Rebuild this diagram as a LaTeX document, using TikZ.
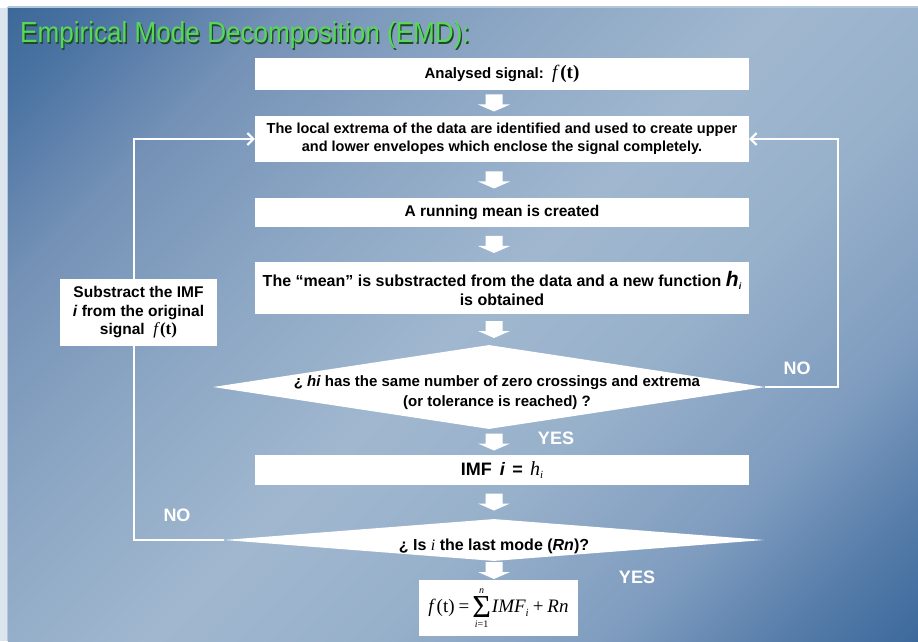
\documentclass[tikz,border=0pt]{standalone}
\usepackage{fontspec}
\setmainfont{Liberation Sans}
\newfontfamily\serif{Liberation Serif}
\usetikzlibrary{arrows.meta,shapes.geometric,calc}
\definecolor{bgA}{HTML}{3C6898}
\definecolor{bgB}{HTML}{4A73A2}
\definecolor{bgC}{HTML}{7491B6}
\definecolor{bgD}{HTML}{8AA5C3}
\definecolor{bgE}{HTML}{A0B7CF}
\definecolor{bgF}{HTML}{98B1CB}
\definecolor{bgG}{HTML}{7F9CBF}
\definecolor{bgH}{HTML}{5A80AC}
\definecolor{bgI}{HTML}{3B689B}
\definecolor{edgecol}{HTML}{DCE4EE}
\definecolor{edgeline}{HTML}{B4C6D9}
\definecolor{titlegreen}{HTML}{58D858}
\definecolor{titleshadow}{HTML}{1E4A28}
\pgfdeclarehorizontalshading{bgshade}{100bp}{color(0bp)=(bgA); color(25bp)=(bgA); color(28bp)=(bgB); color(34bp)=(bgC); color(41bp)=(bgD); color(50bp)=(bgE); color(57bp)=(bgF); color(65bp)=(bgG); color(70bp)=(bgH); color(75bp)=(bgI); color(100bp)=(bgI)}
\newcommand{\smallserif}{\serif\mdseries\fontsize{10}{10}\selectfont}
\newcommand{\bigsum}{$\vcenter{\offinterlineskip\halign{\hfil##\hfil\cr
  \smallserif\itshape n\cr\noalign{\kern3pt}
  \serif\fontsize{32}{32}\selectfont Σ\cr\noalign{\kern4pt}
  \smallserif\itshape i\upshape =1\cr}}$}
\begin{document}
\begin{tikzpicture}[x=1pt,y=1pt,
  box/.style={fill=white, minimum width=494pt, inner sep=2pt, align=center, font=\bfseries\fontsize{14.5}{18}\selectfont},
  dia/.style={diamond, fill=white, inner sep=0pt},
  dtext/.style={align=center, font=\bfseries\fontsize{15}{20}\selectfont, inner sep=0pt},
  blk/.style={fill=white, to path={let \p1=(\tikztostart), \p2=(\tikztotarget) in
    ({\x1-8.5pt},{(\y1+\y2)/2+8.5pt}) -- ({\x1+8.5pt},{(\y1+\y2)/2+8.5pt}) --
    ({\x1+8.5pt},{(\y1+\y2)/2-1.5pt}) -- ({\x1+16pt},{(\y1+\y2)/2-1.5pt}) --
    ({\x1},{(\y1+\y2)/2-8.5pt}) -- ({\x1-16pt},{(\y1+\y2)/2-1.5pt}) --
    ({\x1-8.5pt},{(\y1+\y2)/2-1.5pt}) -- cycle}},
  loopline/.style={white, line width=2pt, -{Straight Barb[length=6pt,width=12pt,line width=2pt]}},
  lbl/.style={text=white, font=\bfseries\fontsize{18}{18}\selectfont, inner sep=0pt},
  titlefont/.style={font=\fontsize{29}{29}\selectfont, inner sep=0pt, anchor=base west}]
\useasboundingbox (0,0) rectangle (918,641);
\fill[white] (0,0) rectangle (918,641);
\fill[edgecol] (0,0) rectangle (8,633);
\begin{scope}
  \clip (8,0) rectangle (918,633);
  \shade[shading=bgshade, transform canvas={rotate around={-45:(463,316.5)}}] (-83,-229.5) rectangle (1009,862.5);
\end{scope}
\draw[edgeline, line width=1.5pt] (8,634) -- (918,634);
\draw[edgeline, line width=1.5pt] (7.5,0) -- (7.5,634);

% title
\node[titlefont, text=titleshadow] (tsh) at (21.3,596.7) {\scalebox{0.9}[1]{Empirical Mode Decomposition (EMD):}};
\node[titlefont, text=titlegreen] (title) at (20,598) {\scalebox{0.9}[1]{Empirical Mode Decomposition (EMD):}};

% boxes
\node[box, minimum height=32pt, font=\bfseries\fontsize{15}{18}\selectfont] (b1) at (502,567) {Analysed signal:~~{\serif\fontsize{19}{19}\selectfont{\itshape\mdseries f}\hspace{3pt}(t)}};
\node[box, minimum height=46pt] (b2) at (502,502) {The local extrema of the data are identified and used to create upper\\and lower envelopes which enclose the signal completely.};
\node[box, minimum height=29pt, font=\bfseries\fontsize{15.5}{18}\selectfont] (b3) at (502,428.5) {A running mean is created};
\node[box, minimum height=52pt, font=\bfseries\fontsize{16}{19}\selectfont] (b4) at (502,353) {The “mean” is substracted from the data and a new function {\fontsize{21}{18}\selectfont\itshape h}\raisebox{-3pt}{\fontsize{9}{9}\selectfont\itshape i}\\is obtained};
\node[dia, minimum width=552pt, minimum height=84pt] (d1) at (489,254) {};
\node[dtext] (d1t) at (497,248) {¿ \textit{hi} has the same number of zero crossings and extrema\\(or tolerance is reached) ?};
\node[box, minimum height=30pt, font=\bfseries\fontsize{18}{18}\selectfont] (b5) at (502,171) {IMF\hspace{0.45em}\textit{i}\hspace{0.4em}=\hspace{0.4em}{\serif\itshape\mdseries\fontsize{20}{20}\selectfont h}\raisebox{-3.5pt}{\serif\itshape\mdseries\fontsize{11}{11}\selectfont i}};
\node[dia, minimum width=540pt, minimum height=42pt] (d2) at (494,101) {};
\node[dtext, font=\bfseries\fontsize{16}{20}\selectfont] (d2t) at (494,95) {¿ Is {\serif\itshape\mdseries i} the last mode (\textit{Rn})?};
\node[box, minimum width=159pt, minimum height=56pt, inner sep=0pt, font=\serif\fontsize{19}{22}\selectfont] (fm) at (498.5,33) {{\itshape f}\hspace{3pt}(t)\hspace{4pt}=\hspace{3pt}\bigsum\hspace{1pt}{\itshape IMF}\raisebox{-4pt}{\fontsize{11}{11}\selectfont\itshape i}\hspace{4pt}+\hspace{4pt}{\itshape Rn}};

% block arrows
\coordinate (ax) at (494,0);
\path[blk] (b1.south -| ax) to (b2.north -| ax);
\path[blk] (b2.south -| ax) to (b3.north -| ax);
\path[blk] (b3.south -| ax) to (b4.north -| ax);
\path[blk] (b4.south -| ax) to (d1.north -| ax);
\path[blk] (d1.south -| ax) to (b5.north -| ax);
\path[blk] (b5.south -| ax) to (d2.north -| ax);
\path[blk] (d2.south -| ax) to (fm.north -| ax);

% loops
\coordinate (rc) at (838,0);
\coordinate (lc) at (134,0);
\draw[loopline] (d1.east) -- (d1.east -| rc) |- (b2.east);
\draw[loopline] (d2.west) -- (d2.west -| lc) |- (b2.west);

\node[box, minimum width=157pt, minimum height=67pt, font=\bfseries\fontsize{15.5}{18.5}\selectfont] (sb) at (138.5,328.5) {Substract the IMF\\\textit{i} from the original\\signal~~{\serif\fontsize{17}{17}\selectfont{\itshape\mdseries f}\hspace{2pt}\bfseries(t)}};

% labels
\node[lbl] (no1) at (797,273) {NO};
\node[lbl] (yes1) at (556,203) {YES};
\node[lbl] (no2) at (177,126) {NO};
\node[lbl] (yes2) at (637,64) {YES};
\end{tikzpicture}
\end{document}
